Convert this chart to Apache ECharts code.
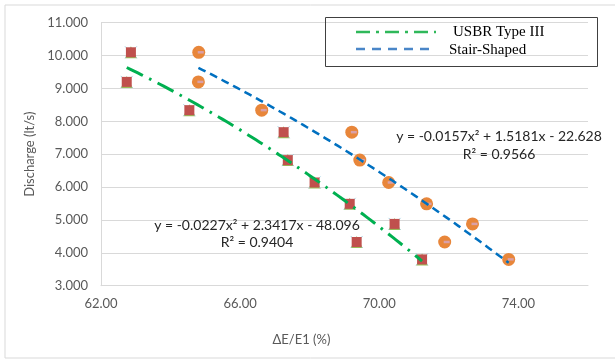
<!DOCTYPE html>
<html>
<head>
<meta charset="utf-8">
<script src="https://cdn.jsdelivr.net/npm/echarts@6/dist/echarts.min.js"></script>
<style>
  html, body { margin: 0; padding: 0; background: #ffffff; }
  #chart { width: 615px; height: 359px; }
</style>
</head>
<body>
<div id="chart"></div>
<script>
// Energy dissipation ratio (ΔE/E1, %) for each tested discharge
const discharge = [10.1, 9.2, 8.34, 7.67, 6.82, 6.14, 5.49, 4.88, 4.33, 3.80];
const usbrDeltaE = [62.86, 62.74, 64.54, 67.25, 67.37, 68.14, 69.15, 70.44, 69.35, 71.23];
const stairDeltaE = [64.81, 64.80, 66.62, 69.21, 69.44, 70.27, 71.36, 72.68, 71.88, 73.72];

// Axis ranges
const xRange = { min: 62, max: 76, step: 4 };
const yRange = { min: 3, max: 11, step: 1 };

// Trendline labels
const usbrEquation = 'y = -0.0227x² + 2.3417x - 48.096';
const usbrR2 = 'R² = 0.9404';
const stairEquation = 'y = -0.0157x² + 1.5181x - 22.628';
const stairR2 = 'R² = 0.9566';

const seriesNames = ['USBR Type III', 'Stair-Shaped'];

// Least-squares polynomial of order 2 (same fit as the trendline labels)
function quadFit(xs, ys) {
  let s = [0, 0, 0, 0, 0], t = [0, 0, 0];
  for (let i = 0; i < xs.length; i++) {
    let p = 1;
    for (let k = 0; k < 5; k++) { s[k] += p; if (k < 3) t[k] += p * ys[i]; p *= xs[i]; }
  }
  const A = [[s[0], s[1], s[2], t[0]], [s[1], s[2], s[3], t[1]], [s[2], s[3], s[4], t[2]]];
  for (let c = 0; c < 3; c++) {
    for (let r = c + 1; r < 3; r++) {
      const f = A[r][c] / A[c][c];
      for (let k = c; k < 4; k++) A[r][k] -= f * A[c][k];
    }
  }
  const b = [0, 0, 0];
  for (let r = 2; r >= 0; r--) {
    let v = A[r][3];
    for (let k = r + 1; k < 3; k++) v -= A[r][k] * b[k];
    b[r] = v / A[r][r];
  }
  return b; // c0 + c1 x + c2 x^2
}

function trendPoints(xs, ys) {
  const c = quadFit(xs, ys);
  const lo = Math.min(...xs), hi = Math.max(...xs);
  const pts = [];
  const n = 80;
  for (let i = 0; i <= n; i++) {
    const x = lo + (hi - lo) * i / n;
    pts.push([x, c[0] + c[1] * x + c[2] * x * x]);
  }
  return pts;
}

const pairs = (xs) => xs.map((x, i) => [x, discharge[i]]);
const usbrPts = pairs(usbrDeltaE);
const stairPts = pairs(stairDeltaE);

const FONT = 'Lato, "Open Sans", sans-serif';
const SERIF = '"Liberation Serif", "Times New Roman", serif';

const chart = echarts.init(document.getElementById('chart'), null, { renderer: 'canvas' });

chart.setOption({
  animation: false,
  backgroundColor: '#ffffff',
  grid: { left: 101, right: 27, top: 22.7, bottom: 73.3, containLabel: false },
  xAxis: {
    type: 'value',
    min: xRange.min, max: xRange.max, interval: xRange.step,
    name: 'ΔE/E1 (%)',
    nameLocation: 'middle',
    nameGap: 48,
    nameTextStyle: { fontFamily: FONT, fontSize: 13, color: '#595959', padding: [0, 86, 0, 0] },
    axisLine: { show: true, lineStyle: { color: '#d9d9d9', width: 1 } },
    axisTick: { show: false },
    splitLine: { show: false },
    axisLabel: {
      fontFamily: FONT, fontSize: 13, color: '#595959', margin: 12,
      showMaxLabel: false,
      formatter: (v) => v.toFixed(2)
    }
  },
  yAxis: {
    type: 'value',
    min: yRange.min, max: yRange.max, interval: yRange.step,
    name: 'Discharge (lt/s)',
    nameLocation: 'middle',
    nameGap: 50,
    nameTextStyle: { fontFamily: FONT, fontSize: 13, color: '#595959' },
    axisLine: { show: true, lineStyle: { color: '#d9d9d9', width: 1 } },
    axisTick: { show: false },
    splitLine: { show: true, lineStyle: { color: '#d9d9d9', width: 1 } },
    axisLabel: {
      fontFamily: FONT, fontSize: 13, color: '#595959', margin: 13,
      formatter: (v) => v.toFixed(3)
    }
  },
  series: [
    // USBR Type III markers (layered marker: green base, blue cross, red square)
    { name: seriesNames[0], type: 'scatter', data: usbrPts, symbol: 'triangle', symbolSize: 12,
      itemStyle: { color: '#9bbb59', opacity: 1 }, z: 2 },
    { name: seriesNames[0], type: 'scatter', data: usbrPts, symbol: 'path://M0,0L10,10M10,0L0,10', symbolSize: 12,
      itemStyle: { color: 'none', borderColor: '#8fc6dc', borderWidth: 0.8, opacity: 1 }, z: 3 },
    { name: seriesNames[0], type: 'scatter', data: usbrPts, symbol: 'rect', symbolSize: 10,
      itemStyle: { color: '#c0504d', opacity: 1 }, z: 4 },
    // Stair-Shaped markers
    { name: seriesNames[1], type: 'scatter', data: stairPts, symbol: 'circle', symbolSize: 13,
      itemStyle: { color: '#e8863a', opacity: 1 }, z: 2 },
    { name: seriesNames[1], type: 'scatter', data: stairPts, symbol: 'rect', symbolSize: [6, 2.5],
      symbolOffset: [2, 0],
      itemStyle: { color: '#d9a0a8', opacity: 1 }, z: 4 },
    // Polynomial trendlines
    { name: seriesNames[0] + ' trend', type: 'line', data: trendPoints(usbrDeltaE, discharge),
      showSymbol: false, smooth: false, z: 6,
      lineStyle: { color: '#00b050', width: 3, type: [18, 7, 2.5, 7], cap: 'butt' } },
    { name: seriesNames[1] + ' trend', type: 'line', data: trendPoints(stairDeltaE, discharge),
      showSymbol: false, smooth: false, z: 6,
      lineStyle: { color: '#0070c0', width: 2.5, type: [8, 5], cap: 'butt' } }
  ],
  graphic: [
    // chart area border
    { type: 'rect', silent: true, shape: { x: 5, y: 5, width: 620, height: 353 },
      style: { fill: 'none', stroke: '#d9d9d9', lineWidth: 1 } },
    // legend box
    { type: 'rect', silent: true, z: 10, shape: { x: 325.5, y: 17.5, width: 272, height: 49 },
      style: { fill: 'none', stroke: '#404040', lineWidth: 1 } },
    { type: 'line', silent: true, z: 10, shape: { x1: 356, y1: 32, x2: 436, y2: 32 },
      style: { stroke: '#2fb85a', lineWidth: 2.5, lineDash: [14, 6, 3, 6] } },
    { type: 'text', silent: true, z: 10, x: 453, y: 32,
      style: { text: seriesNames[0], font: '15px ' + SERIF, fill: '#000000', textVerticalAlign: 'middle' } },
    { type: 'line', silent: true, z: 10, shape: { x1: 356, y1: 49, x2: 430, y2: 49 },
      style: { stroke: '#4a86c8', lineWidth: 2.5, lineDash: [9, 7] } },
    { type: 'text', silent: true, z: 10, x: 449, y: 50,
      style: { text: seriesNames[1], font: '15px ' + SERIF, fill: '#000000', textVerticalAlign: 'middle' } },
    // trendline labels
    { type: 'text', silent: true, z: 10, x: 499, y: 136,
      style: { text: stairEquation, font: '14px ' + FONT, fill: '#262626', textAlign: 'center', textVerticalAlign: 'middle' } },
    { type: 'text', silent: true, z: 10, x: 499, y: 154,
      style: { text: stairR2, font: '14px ' + FONT, fill: '#262626', textAlign: 'center', textVerticalAlign: 'middle' } },
    { type: 'text', silent: true, z: 10, x: 257, y: 225,
      style: { text: usbrEquation, font: '14px ' + FONT, fill: '#262626', textAlign: 'center', textVerticalAlign: 'middle' } },
    { type: 'text', silent: true, z: 10, x: 257, y: 242,
      style: { text: usbrR2, font: '14px ' + FONT, fill: '#262626', textAlign: 'center', textVerticalAlign: 'middle' } }
  ]
});
</script>
</body>
</html>
